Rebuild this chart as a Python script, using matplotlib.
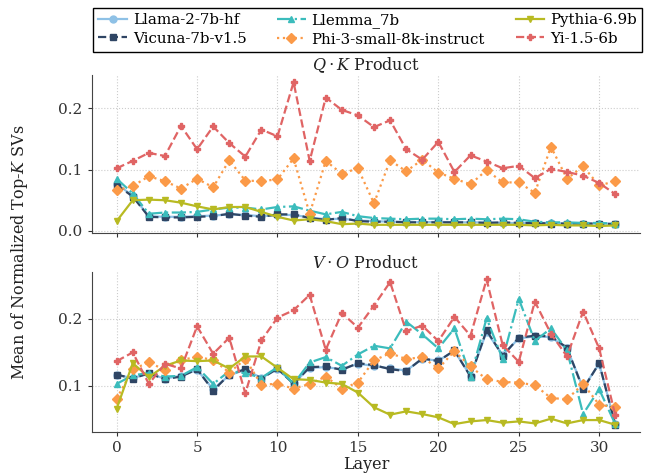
import numpy as np
import matplotlib.pyplot as plt

plt.rcParams['font.family'] = ['DejaVu Serif']
plt.rcParams['mathtext.fontset'] = 'dejavuserif'

layers = np.arange(32)
model_names = ['Llama-2-7b-hf', 'Vicuna-7b-v1.5', 'Llemma_7b',
               'Phi-3-small-8k-instruct', 'Pythia-6.9b', 'Yi-1.5-6b']

# Q·K product
qk_vicuna = [0.075, 0.056, 0.023, 0.022, 0.022, 0.023, 0.024, 0.028, 0.025, 0.023, 0.027, 0.027,
             0.021, 0.018, 0.021, 0.016, 0.015, 0.015, 0.014, 0.014, 0.014, 0.014, 0.014, 0.013,
             0.014, 0.013, 0.013, 0.012, 0.012, 0.012, 0.012, 0.011]
qk_llama = [0.077, 0.057, 0.024, 0.023, 0.023, 0.024, 0.025, 0.027, 0.026, 0.024, 0.026, 0.026,
            0.022, 0.019, 0.020, 0.017, 0.016, 0.015, 0.015, 0.014, 0.015, 0.014, 0.014, 0.014,
            0.013, 0.013, 0.013, 0.013, 0.012, 0.012, 0.012, 0.012]
qk_llemma = [0.085, 0.061, 0.028, 0.030, 0.030, 0.031, 0.035, 0.038, 0.038, 0.035, 0.039, 0.040,
             0.033, 0.027, 0.031, 0.024, 0.021, 0.020, 0.019, 0.020, 0.020, 0.019, 0.020, 0.019,
             0.020, 0.019, 0.015, 0.014, 0.014, 0.013, 0.013, 0.012]
qk_phi = [0.066, 0.073, 0.089, 0.081, 0.069, 0.085, 0.071, 0.115, 0.082, 0.081, 0.084, 0.118,
          0.028, 0.114, 0.093, 0.102, 0.045, 0.115, 0.097, 0.116, 0.095, 0.085, 0.076, 0.099,
          0.079, 0.079, 0.062, 0.137, 0.085, 0.105, 0.074, 0.081]
qk_pythia = [0.016, 0.050, 0.051, 0.050, 0.046, 0.040, 0.035, 0.039, 0.039, 0.031, 0.023, 0.017,
             0.019, 0.016, 0.011, 0.012, 0.010, 0.010, 0.010, 0.010, 0.010, 0.010, 0.010, 0.010,
             0.010, 0.010, 0.009, 0.010, 0.009, 0.009, 0.008, 0.009]
qk_yi = [0.102, 0.114, 0.127, 0.122, 0.171, 0.133, 0.170, 0.143, 0.121, 0.165, 0.154, 0.242,
         0.114, 0.217, 0.197, 0.188, 0.169, 0.180, 0.133, 0.116, 0.145, 0.096, 0.123, 0.113,
         0.102, 0.106, 0.086, 0.101, 0.096, 0.090, 0.078, 0.060]

# V·O product
vo_vicuna = [0.117, 0.111, 0.119, 0.110, 0.114, 0.125, 0.093, 0.117, 0.125, 0.111, 0.126, 0.103,
             0.128, 0.129, 0.124, 0.134, 0.131, 0.125, 0.122, 0.141, 0.137, 0.153, 0.114, 0.183,
             0.145, 0.172, 0.175, 0.174, 0.157, 0.095, 0.134, 0.042]
vo_llama = [0.116, 0.112, 0.118, 0.111, 0.115, 0.124, 0.095, 0.116, 0.124, 0.112, 0.125, 0.104,
            0.127, 0.128, 0.125, 0.133, 0.130, 0.126, 0.123, 0.140, 0.138, 0.152, 0.115, 0.181,
            0.146, 0.171, 0.174, 0.173, 0.156, 0.097, 0.133, 0.043]
vo_llemma = [0.103, 0.116, 0.119, 0.114, 0.115, 0.128, 0.103, 0.122, 0.119, 0.112, 0.128, 0.103,
             0.135, 0.143, 0.130, 0.147, 0.160, 0.156, 0.196, 0.177, 0.156, 0.186, 0.114, 0.201,
             0.140, 0.230, 0.167, 0.186, 0.153, 0.058, 0.095, 0.043]
vo_phi = [0.081, 0.125, 0.135, 0.124, 0.139, 0.143, 0.139, 0.120, 0.140, 0.102, 0.103, 0.096,
          0.103, 0.114, 0.096, 0.105, 0.138, 0.149, 0.140, 0.143, 0.126, 0.152, 0.129, 0.110,
          0.106, 0.105, 0.101, 0.082, 0.080, 0.103, 0.072, 0.068]
vo_pythia = [0.066, 0.134, 0.113, 0.130, 0.138, 0.137, 0.138, 0.126, 0.144, 0.144, 0.127, 0.110,
             0.109, 0.105, 0.103, 0.090, 0.068, 0.057, 0.062, 0.058, 0.053, 0.043, 0.047, 0.049,
             0.045, 0.047, 0.044, 0.051, 0.044, 0.049, 0.049, 0.042]
vo_yi = [0.137, 0.150, 0.103, 0.133, 0.126, 0.189, 0.148, 0.172, 0.089, 0.168, 0.202, 0.213,
         0.236, 0.154, 0.209, 0.187, 0.220, 0.255, 0.182, 0.190, 0.167, 0.203, 0.175, 0.259,
         0.161, 0.136, 0.226, 0.178, 0.144, 0.211, 0.156, 0.056]

qk_series = [qk_llama, qk_vicuna, qk_llemma, qk_phi, qk_pythia, qk_yi]
vo_series = [vo_llama, vo_vicuna, vo_llemma, vo_phi, vo_pythia, vo_yi]

colors = ['#8ec1e6', '#2f4564', '#3bbcbc', '#fb9a48', '#b8ba22', '#e06464']
styles = ['-', '--', '-.', ':', '-', '--']
markers = ['o', 's', '^', 'D', 'v', 'P']

fig = plt.figure(figsize=(6.46, 4.75), dpi=100)
ax1 = fig.add_axes([0.142, 0.509, 0.849, 0.333])
ax2 = fig.add_axes([0.142, 0.0905, 0.849, 0.3365], sharex=ax1)

for ax, series, title in [(ax1, qk_series, r'$Q \cdot K$ Product'),
                          (ax2, vo_series, r'$V \cdot O$ Product')]:
    for vals, name, c, ls, mk in zip(series, model_names, colors, styles, markers):
        ax.plot(layers, vals, color=c, linestyle=ls, marker=mk, markersize=5,
                linewidth=1.6, label=name)
    ax.set_title(title, fontsize=11.5, pad=2, color='#222222')
    ax.grid(True, linestyle=':', color='#cccccc', linewidth=0.8)
    for s in ['top', 'right']:
        ax.spines[s].set_visible(False)
    for s in ['left', 'bottom']:
        ax.spines[s].set_color('#444444')
    ax.tick_params(labelsize=11, colors='#333333', length=3)

ax1.tick_params(axis='x', labelbottom=False)
ax1.set_yticks([0.0, 0.1, 0.2])
ax2.set_yticks([0.1, 0.2])
ax2.set_xticks([0, 5, 10, 15, 20, 25, 30])
ax2.set_xlabel('Layer', fontsize=11.5, labelpad=1, color='#222222')
fig.text(0.03, 0.47, 'Mean of Normalized Top-$K$ SVs', rotation=90,
         ha='center', va='center', fontsize=11.5, color='#222222')

handles, labels = ax1.get_legend_handles_labels()
fig.legend(handles, labels, loc='lower left', bbox_to_anchor=(0.144, 0.891, 0.85, 0.103),
           mode='expand', borderaxespad=0, ncol=3, fontsize=10.8, frameon=True,
           fancybox=False, edgecolor='black', framealpha=1, handlelength=1.9,
           borderpad=0.35, labelspacing=0.3, handletextpad=0.4, columnspacing=0.8)

fig.savefig('out.png', dpi=100)
